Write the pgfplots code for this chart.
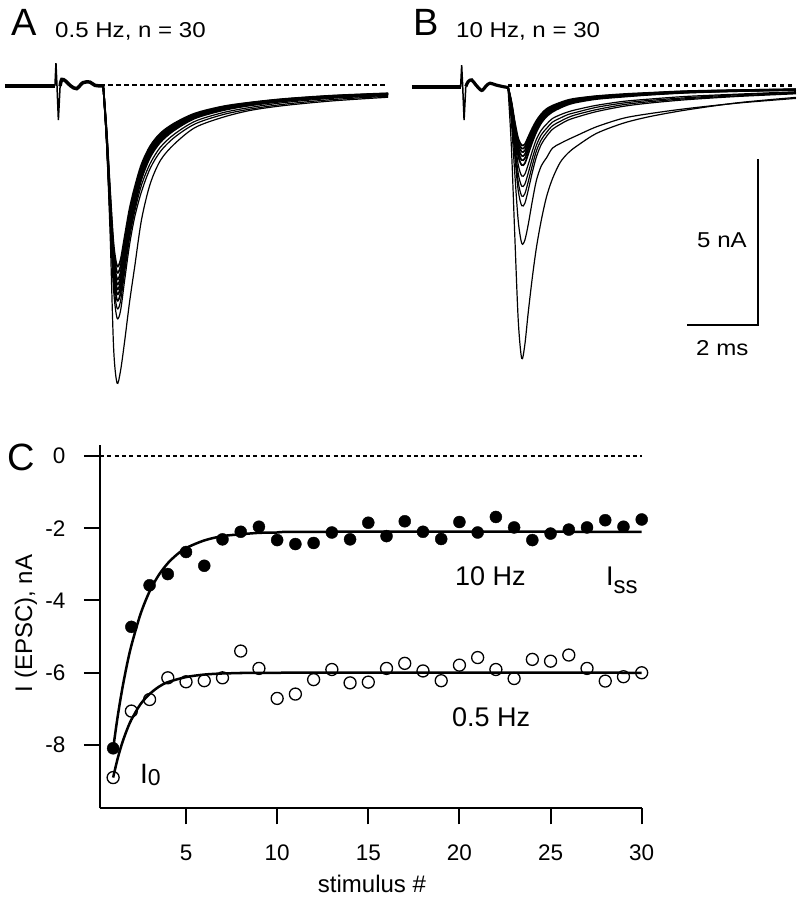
\documentclass[border=0pt]{standalone}
\usepackage{pgfplots}
\pgfplotsset{compat=1.18}
\usepackage{pgfplotstable}
\usepackage{fontspec}
\setmainfont{Liberation Sans}
\usepackage{graphicx}
\newcommand{\fs}[1]{\fontsize{#1bp}{#1bp}\selectfont}

% ---------- Panel A traces (t in ms, I in nA) ----------
\pgfplotstableread{
t v
-1.51 0
-0.06 0
}\Apre
\pgfplotstableread{
t v
-0.06 0
-0.03 0.69
0.00 0.0
0.04 -1.03
0.09 0
}\Aart
\pgfplotstableread{
t v
0.09 0
0.14 0.20
0.25 0.15
0.40 0.0
0.57 -0.08
0.75 0.10
0.95 0.12
1.10 0.02
1.34 0.0
}\Apost
\pgfplotstableread{
t     big    c71   c68   c655  c635  c62   c605  c59   c57   c55
1.34   0      0     0     0     0     0     0     0     0     0
1.44  -1.80  -1.78 -1.70 -1.64 -1.59 -1.55 -1.51 -1.48 -1.43 -1.38
1.54  -4.50  -4.12 -3.94 -3.80 -3.68 -3.60 -3.51 -3.42 -3.31 -3.19
1.64  -7.92  -6.18 -5.92 -5.70 -5.52 -5.39 -5.26 -5.13 -4.96 -4.79
1.74  -9.00  -7.03 -6.73 -6.48 -6.29 -6.14 -5.99 -5.84 -5.64 -5.45
1.84  -8.64  -6.82 -6.53 -6.29 -6.10 -5.95 -5.81 -5.66 -5.47 -5.28
1.96  -7.74  -5.89 -5.64 -5.44 -5.27 -5.15 -5.02 -4.90 -4.73 -4.57
2.10  -6.57  -4.83 -4.62 -4.45 -4.32 -4.22 -4.11 -4.01 -3.88 -3.74
2.25  -5.49  -3.98 -3.81 -3.67 -3.56 -3.47 -3.39 -3.30 -3.19 -3.08
2.45  -4.05  -3.20 -3.00 -2.82 -2.73 -2.67 -2.60 -2.54 -2.45 -2.37
2.70  -2.97  -2.50 -2.35 -2.16 -2.10 -2.05 -2.00 -1.95 -1.88 -1.82
3.00  -2.25  -1.98 -1.85 -1.70 -1.65 -1.61 -1.57 -1.53 -1.48 -1.43
3.40  -1.76  -1.56 -1.46 -1.34 -1.30 -1.27 -1.24 -1.21 -1.17 -1.13
4.00  -1.26  -1.15 -1.07 -0.98 -0.95 -0.93 -0.91 -0.89 -0.86 -0.83
4.80  -0.95  -0.87 -0.81 -0.74 -0.72 -0.70 -0.68 -0.67 -0.64 -0.62
5.60  -0.74  -0.70 -0.65 -0.59 -0.57 -0.56 -0.54 -0.53 -0.51 -0.50
6.60  -0.59  -0.55 -0.50 -0.46 -0.44 -0.43 -0.42 -0.41 -0.40 -0.39
8.00  -0.45  -0.41 -0.37 -0.34 -0.33 -0.32 -0.31 -0.31 -0.30 -0.29
9.60  -0.34  -0.31 -0.29 -0.26 -0.25 -0.25 -0.24 -0.24 -0.23 -0.22
}\Atr

% ---------- Panel B traces ----------
\pgfplotstableread{
t v
-1.47 0
-0.06 0
}\Bpre
\pgfplotstableread{
t v
-0.06 0
-0.03 0.65
0.00 0.0
0.04 -1.02
0.09 0
}\Bart
\pgfplotstableread{
t v
0.09 0
0.16 0.15
0.26 0.20
0.38 0.05
0.55 -0.12
0.68 0.02
0.79 0.10
0.95 0.05
1.15 0.0
1.31 -0.03
}\Bpost
\pgfplotstableread{
t     T1     T2     T3    T4    T5    T6    T7    T8    T9    T10   T11   T12
1.31   0      0      0     0     0     0     0     0     0     0     0     0
1.41  -1.81  -1.06  -0.86 -0.79 -0.72 -0.64 -0.60 -0.56 -0.53 -0.50 -0.48 -0.45
1.51  -4.53  -2.64  -2.10 -1.93 -1.75 -1.58 -1.44 -1.35 -1.27 -1.20 -1.14 -1.08
1.61  -7.09  -4.08  -3.16 -2.90 -2.64 -2.37 -2.11 -1.98 -1.87 -1.76 -1.67 -1.58
1.71  -8.24  -4.75  -3.61 -3.32 -3.02 -2.71 -2.38 -2.23 -2.10 -1.98 -1.88 -1.78
1.80  -7.83  -4.66  -3.54 -3.25 -2.96 -2.66 -2.33 -2.18 -2.06 -1.94 -1.84 -1.75
1.90  -6.84  -4.18  -3.14 -2.88 -2.62 -2.36 -2.04 -1.91 -1.80 -1.70 -1.62 -1.53
2.02  -5.77  -3.46  -2.59 -2.38 -2.17 -1.95 -1.68 -1.58 -1.48 -1.40 -1.33 -1.26
2.14  -4.86  -2.83  -2.12 -1.94 -1.77 -1.59 -1.37 -1.28 -1.21 -1.14 -1.08 -1.03
2.28  -4.04  -2.40  -1.75 -1.61 -1.46 -1.32 -1.10 -1.04 -0.98 -0.92 -0.87 -0.83
2.43  -3.34  -2.16  -1.51 -1.39 -1.27 -1.14 -0.91 -0.86 -0.81 -0.76 -0.72 -0.68
2.60  -2.80  -1.87  -1.30 -1.19 -1.08 -0.97 -0.77 -0.72 -0.68 -0.64 -0.61 -0.58
2.82  -2.31  -1.73  -1.15 -1.06 -0.96 -0.86 -0.65 -0.61 -0.57 -0.54 -0.51 -0.49
3.05  -2.02  -1.61  -1.02 -0.94 -0.85 -0.77 -0.55 -0.52 -0.49 -0.46 -0.44 -0.41
3.30  -1.81  -1.49  -0.93 -0.85 -0.78 -0.70 -0.48 -0.45 -0.42 -0.40 -0.38 -0.36
3.88  -1.42  -1.22  -0.76 -0.70 -0.63 -0.57 -0.38 -0.36 -0.34 -0.32 -0.30 -0.29
4.66  -1.11  -0.96  -0.60 -0.55 -0.50 -0.45 -0.31 -0.29 -0.28 -0.26 -0.25 -0.23
5.43  -0.91  -0.82  -0.50 -0.46 -0.42 -0.38 -0.25 -0.24 -0.22 -0.21 -0.20 -0.19
6.49  -0.71  -0.67  -0.40 -0.37 -0.34 -0.30 -0.19 -0.18 -0.17 -0.16 -0.15 -0.14
8.00  -0.49  -0.50  -0.30 -0.28 -0.25 -0.23 -0.14 -0.14 -0.13 -0.12 -0.11 -0.11
9.66  -0.33  -0.36  -0.22 -0.20 -0.18 -0.16 -0.11 -0.10 -0.10 -0.09 -0.09 -0.08
}\Btr

% ---------- Panel C data ----------
\pgfplotstableread{
n I
1 -8.09
2 -4.73
3 -3.58
4 -3.27
5 -2.66
6 -3.04
7 -2.31
8 -2.10
9 -1.96
10 -2.33
11 -2.44
12 -2.41
13 -2.12
14 -2.31
15 -1.85
16 -2.22
17 -1.81
18 -2.10
19 -2.30
20 -1.83
21 -2.12
22 -1.69
23 -1.98
24 -2.33
25 -2.15
26 -2.04
27 -1.98
28 -1.78
29 -1.96
30 -1.76
}\tenHz
\pgfplotstableread{
n I
1 -8.90
2 -7.06
3 -6.74
4 -6.14
5 -6.25
6 -6.22
7 -6.14
8 -5.40
9 -5.88
10 -6.71
11 -6.59
12 -6.19
13 -5.91
14 -6.28
15 -6.26
16 -5.88
17 -5.74
18 -5.95
19 -6.22
20 -5.79
21 -5.58
22 -5.91
23 -6.16
24 -5.63
25 -5.68
26 -5.51
27 -5.88
28 -6.23
29 -6.11
30 -6.00
}\halfHz
\pgfplotstableread{
n I
1 -8.10
1.25 -7.21
1.5 -6.45
1.75 -5.80
2 -5.25
2.5 -4.38
3 -3.75
3.5 -3.30
4 -2.97
4.5 -2.73
5 -2.55
6 -2.34
7 -2.22
8 -2.17
9 -2.13
10 -2.12
12 -2.10
30 -2.10
}\tenFit
\pgfplotstableread{
n I
1 -8.90
1.25 -8.37
1.5 -7.94
1.75 -7.59
2 -7.30
2.5 -6.87
3 -6.59
3.5 -6.39
4 -6.26
5 -6.12
6 -6.05
7 -6.02
8 -6.01
10 -6.00
30 -6.00
}\halfFit

\pgfplotsset{
  tr/.style={black, line width=1.2bp, smooth, no markers},
  trc/.style={black, line width=1.7bp, smooth, no markers},
  base/.style={black, dash pattern=on 4.5bp off 3.5bp, line width=2.2bp, no markers},
}

\begin{document}
\begin{tikzpicture}
\path[use as bounding box] (0,0) rectangle (798bp,-899bp);

% ================= Panel A =================
\begin{axis}[at={(1.8bp,-399.5bp)}, anchor=south west, scale only axis,
  width=393.3bp, height=343.2bp, xmin=-1.6, xmax=9.8, ymin=-9.5, ymax=0.9,
  hide axis, clip=false]
\addplot[base] coordinates {(1.25,0.03) (9.51,0.03)};
\addplot[trc] table[x=t,y=c55]{\Atr};
\addplot[trc] table[x=t,y=c57]{\Atr};
\addplot[trc] table[x=t,y=c59]{\Atr};
\addplot[trc] table[x=t,y=c605]{\Atr};
\addplot[trc] table[x=t,y=c62]{\Atr};
\addplot[trc] table[x=t,y=c635]{\Atr};
\addplot[trc] table[x=t,y=c655]{\Atr};
\addplot[tr] table[x=t,y=c68]{\Atr};
\addplot[tr] table[x=t,y=c71]{\Atr};
\addplot[tr] table[x=t,y=big]{\Atr};
\addplot[black, line width=4.5bp, no markers] table[x=t,y=v]{\Apre};
\addplot[black, line width=1.5bp, no markers] table[x=t,y=v]{\Aart};
\addplot[black, line width=3.5bp, no markers, smooth] table[x=t,y=v]{\Apost};
\end{axis}

% ================= Panel B =================
\begin{axis}[at={(407.5bp,-400bp)}, anchor=south west, scale only axis,
  width=389.85bp, height=343.2bp, xmin=-1.6, xmax=9.7, ymin=-9.5, ymax=0.9,
  hide axis, clip=false]
\addplot[base] coordinates {(1.31,0.03) (9.64,0.03)};
\addplot[trc] table[x=t,y=T12]{\Btr};
\addplot[trc] table[x=t,y=T11]{\Btr};
\addplot[trc] table[x=t,y=T10]{\Btr};
\addplot[trc] table[x=t,y=T9]{\Btr};
\addplot[trc] table[x=t,y=T8]{\Btr};
\addplot[trc] table[x=t,y=T7]{\Btr};
\addplot[tr] table[x=t,y=T6]{\Btr};
\addplot[tr] table[x=t,y=T5]{\Btr};
\addplot[tr] table[x=t,y=T4]{\Btr};
\addplot[tr] table[x=t,y=T3]{\Btr};
\addplot[tr] table[x=t,y=T2]{\Btr};
\addplot[tr] table[x=t,y=T1]{\Btr};
\addplot[black, line width=4bp, no markers] table[x=t,y=v]{\Bpre};
\addplot[black, line width=1.5bp, no markers] table[x=t,y=v]{\Bart};
\addplot[black, line width=3.2bp, no markers, smooth] table[x=t,y=v]{\Bpost};
% scale bar: 2 ms, 5 nA
\addplot[black, line width=2bp, no markers, line join=miter] coordinates {(6.51,-7.24) (8.55,-7.24) (8.55,-2.21)};
\end{axis}

% ================= Panel C =================
\begin{axis}[at={(100bp,-808.3bp)}, anchor=south west, scale only axis,
  width=541.7bp, height=363.3bp, xmin=0.28, xmax=30, ymin=-9.75, ymax=0.3,
  axis x line=bottom, axis y line=left,
  axis line style={line width=2bp, -},
  tick align=outside, major tick length=16bp,
  tick style={line width=2bp, black},
  xtick={5,10,15,20,25,30}, xticklabels={5,10,15,20,25,30},
  ytick={0,-2,-4,-6,-8}, yticklabels={0,-2,-4,-6,-8},
  ticklabel style={font=\fs{22.5}},
  xticklabel style={yshift=-17bp},
  yticklabel style={xshift=-15bp},
  clip=false]
\addplot[black, dash pattern=on 4bp off 3.3bp, line width=2bp, no markers] coordinates {(0.28,0) (30,0)};
\addplot[black, line width=2.5bp, smooth, no markers] table[x=n,y=I]{\tenFit};
\addplot[black, line width=2.5bp, smooth, no markers] table[x=n,y=I]{\halfFit};
\addplot[only marks, mark=*, mark size=6bp, mark options={fill=black, draw=black}] table[x=n,y=I]{\tenHz};
\addplot[only marks, mark=o, mark size=6bp, mark options={draw=black, line width=1.3bp}] table[x=n,y=I]{\halfHz};
\end{axis}

% ================= Texts =================
\node[anchor=base west, inner sep=0] at (11bp,-35bp) {\fs{38}A};
\node[anchor=base west, inner sep=0] at (55bp,-37bp) {\scalebox{1.12}[1]{\fs{21.5}0.5 Hz, n = 30}};
\node[anchor=base west, inner sep=0] at (413bp,-35bp) {\fs{38}B};
\node[anchor=base west, inner sep=0] at (456bp,-37bp) {\scalebox{1.12}[1]{\fs{21.5}10 Hz, n = 30}};
\node[anchor=base west, inner sep=0] at (697bp,-247bp) {\scalebox{1.12}[1]{\fs{21.5}5 nA}};
\node[anchor=base west, inner sep=0] at (696bp,-355bp) {\scalebox{1.12}[1]{\fs{21.5}2 ms}};
\node[anchor=base west, inner sep=0] at (7bp,-470bp) {\fs{38}C};
\node[anchor=base west, inner sep=0] at (455bp,-585bp) {\fs{27}10 Hz};
\node[anchor=base west, inner sep=0] at (452bp,-726bp) {\fs{27}0.5 Hz};
\node[anchor=base west, inner sep=0] at (606bp,-585bp) {\fs{27}I\raisebox{-8bp}{\fs{24}ss}};
\node[anchor=base west, inner sep=0] at (140bp,-783bp) {\fs{28}I\raisebox{-2bp}{\fs{23}0}};
\node[anchor=base, inner sep=0] at (372bp,-892bp) {\fs{24}stimulus \#};
\node[anchor=base, rotate=90, inner sep=0] at (32bp,-623.5bp) {\fs{24}I (EPSC), nA};
\end{tikzpicture}
\end{document}
